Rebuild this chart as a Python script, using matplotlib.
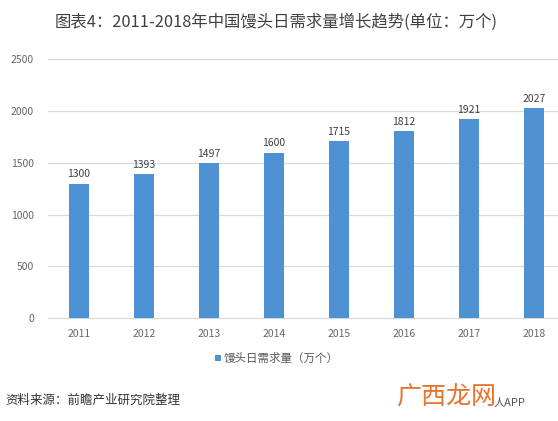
import matplotlib
matplotlib.use("Agg")
import matplotlib.pyplot as plt
from matplotlib.patches import Rectangle

plt.rcParams['font.family'] = ['Noto Sans CJK SC', 'DejaVu Sans']

years = ["2011", "2012", "2013", "2014", "2015", "2016", "2017", "2018"]
values = [1300, 1393, 1497, 1600, 1715, 1812, 1921, 2027]
yticks = [0, 500, 1000, 1500, 2000, 2500]
title = "图表4：2011-2018年中国馒头日需求量增长趋势(单位：万个)"
legend_label = "馒头日需求量（万个）"
source = "资料来源：前瞻产业研究院整理"

W, H = 558, 421
fig = plt.figure(figsize=(W / 100, H / 100), dpi=100)
ax = fig.add_axes([48 / W, 1 - 318 / H, 1 - 48 / W, (318 - 59.5) / H])

x = list(range(len(years)))
bar_color = "#4F92D4"
ax.bar(x, values, width=0.31, color=bar_color, zorder=3)
for xi, v in zip(x, values):
    ax.text(xi, v + 40, str(v), ha="center", va="bottom", fontsize=7.5, color="#404040")

ax.set_xlim(-0.477, 7.37)
ax.set_ylim(0, 2500)
ax.set_yticks(yticks)
ax.set_xticks(x)
ax.set_xticklabels(years)
ax.grid(axis="y", color="#D9D9D9", linewidth=0.9, zorder=0)
for s in ax.spines.values():
    s.set_visible(False)
ax.spines["bottom"].set_visible(True)
ax.spines["bottom"].set_color("#D9D9D9")
ax.tick_params(axis="both", length=0, labelsize=7.5, labelcolor="#666666")
ax.tick_params(axis="y", pad=10)
ax.tick_params(axis="x", pad=8)

fig.text(276 / W, 1 - 22 / H, title, ha="center", va="center", fontsize=11.8, color="#404040")

# legend
fig.patches.append(Rectangle((215 / W, 1 - 361 / H), 6 / W, 6 / H, transform=fig.transFigure,
                             facecolor=bar_color, edgecolor="none"))
fig.text(224 / W, 1 - 358 / H, legend_label, ha="left", va="center", fontsize=8.3, color="#595959")

fig.text(5 / W, 1 - 400 / H, source, ha="left", va="center", fontsize=9, color="#333333",
         style="italic")
fig.text(447 / W, 1 - 398 / H, "广西龙网", ha="center", va="center", fontsize=18, color="#E8732C")
fig.text(494 / W, 1 - 403 / H, "人APP", ha="left", va="center", fontsize=8, color="#555555")

fig.savefig("out.png", dpi=100)
